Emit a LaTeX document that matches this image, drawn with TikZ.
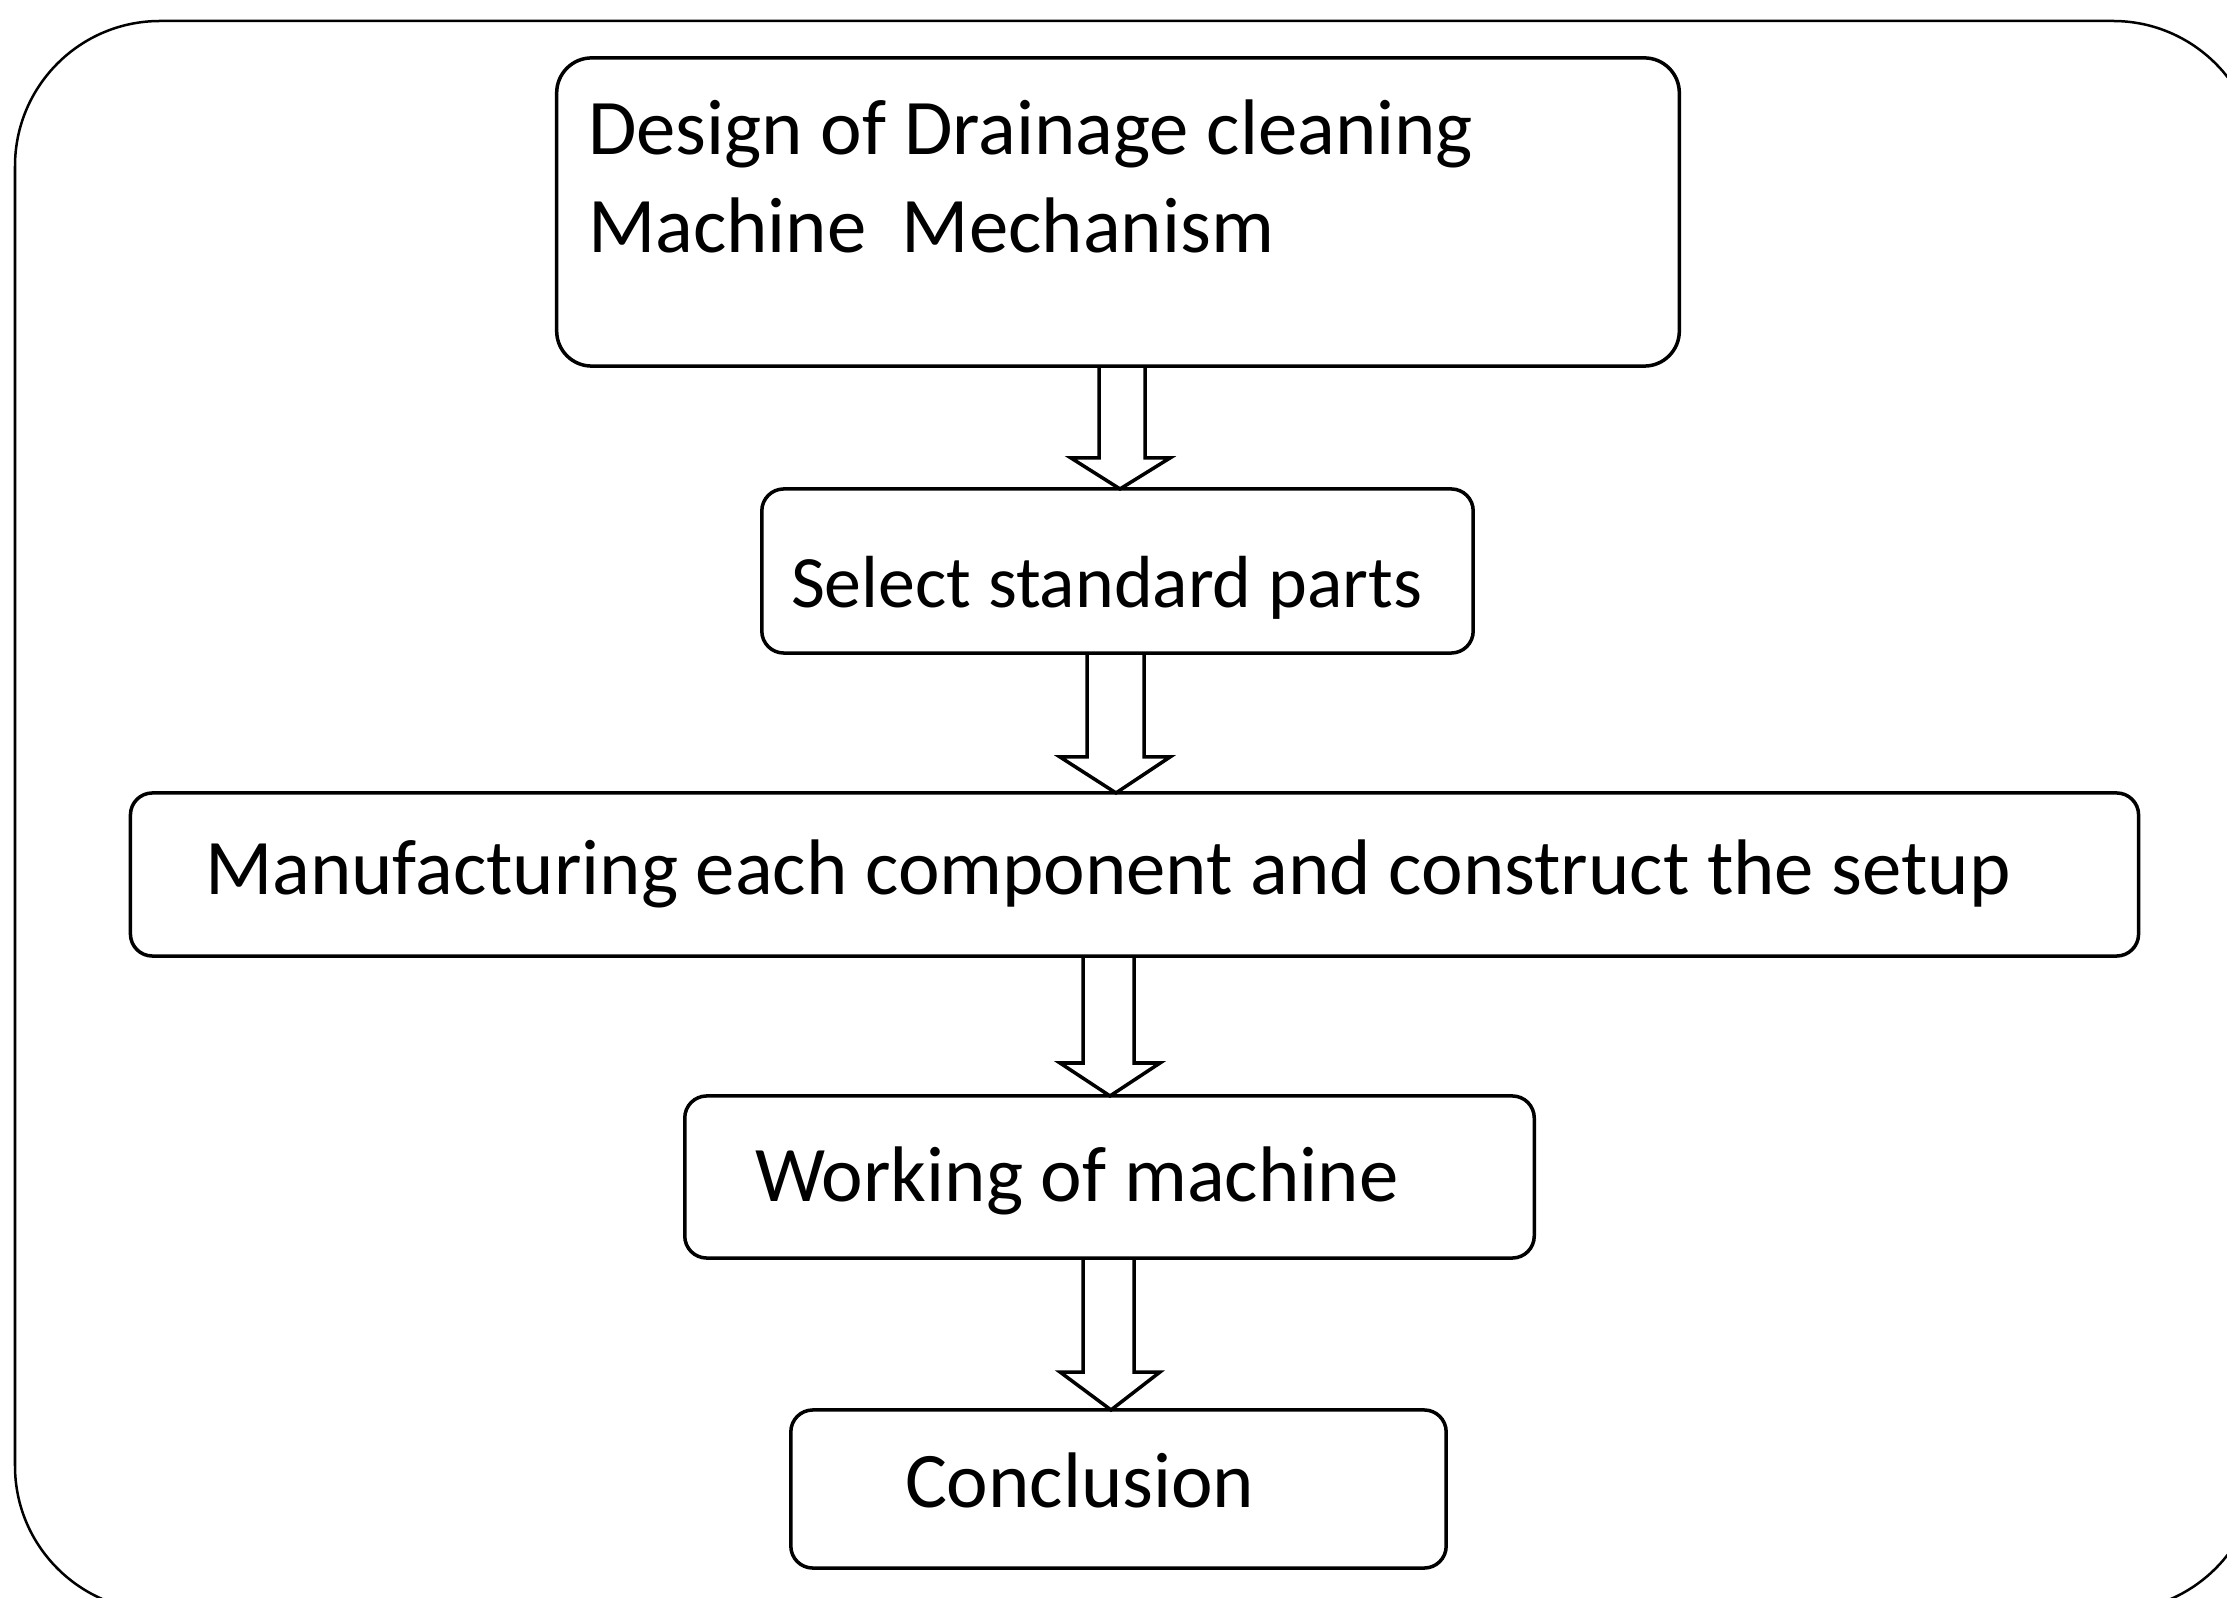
\documentclass[tikz,border=0pt]{standalone}
\usepackage{fontspec}
\setmainfont{Carlito}
\begin{document}
\begin{tikzpicture}[x=0.01cm,y=-0.01cm,
  box/.style={draw, line width=0.035cm, rounded corners=0.22cm, inner sep=0pt, outer sep=0pt},
  lbl/.style={anchor=base west, inner sep=0pt, outer sep=0pt, font=\fontsize{22.4pt}{27pt}\selectfont},
  barrow/.style={draw, line width=0.035cm, line join=miter}]
\useasboundingbox (0,0) rectangle (2227,1598);
\clip (0,0) rectangle (2227,1598);
% outer frame
\draw[line width=0.025cm, rounded corners=1.45cm] (15,21) rectangle (2258,1611);
% boxes
\node[box, rounded corners=0.35cm, minimum width=11.22cm, minimum height=3.08cm] (b1) at (1118,212) {};
\node[box, minimum width=7.11cm, minimum height=1.64cm] (b2) at (1117.5,571) {};
\node[box, minimum width=20.07cm, minimum height=1.63cm] (b3) at (1134.5,874.5) {};
\node[box, minimum width=8.49cm, minimum height=1.62cm] (b4) at (1109.5,1177) {};
\node[box, minimum width=6.55cm, minimum height=1.58cm] (b5) at (1118.5,1489) {};
% texts
\node[lbl] (t1) at (588,155) {Design of Drainage cleaning};
\node[lbl] (t1b) at (588,253) {Machine\ \ Mechanism};
\node[lbl, font=\fontsize{21pt}{25pt}\selectfont] (t2) at (791,608) {Select standard parts};
\node[lbl] (t3) at (205,895) {Manufacturing each component and construct the setup};
\node[lbl] (t4) at (755,1202) {Working of machine};
\node[lbl] (t5) at (905,1507) {Conclusion};
% block arrows
\draw[barrow] (1099,0 |- b1.south) -- (1099,458) -- (1071,458) -- (1120,0 |- b2.north) -- (1170,458) -- (1145,458) -- (1145,0 |- b1.south);
\draw[barrow] (1087,0 |- b2.south) -- (1087,757) -- (1060,757) -- (1116,0 |- b3.north) -- (1170,757) -- (1144,757) -- (1144,0 |- b2.south);
\draw[barrow] (1083,0 |- b3.south) -- (1083,1063) -- (1060,1063) -- (1110,0 |- b4.north) -- (1160,1063) -- (1134,1063) -- (1134,0 |- b3.south);
\draw[barrow] (1083,0 |- b4.south) -- (1083,1372) -- (1060,1372) -- (1111,0 |- b5.north) -- (1160,1372) -- (1134,1372) -- (1134,0 |- b4.south);
\end{tikzpicture}
\end{document}
